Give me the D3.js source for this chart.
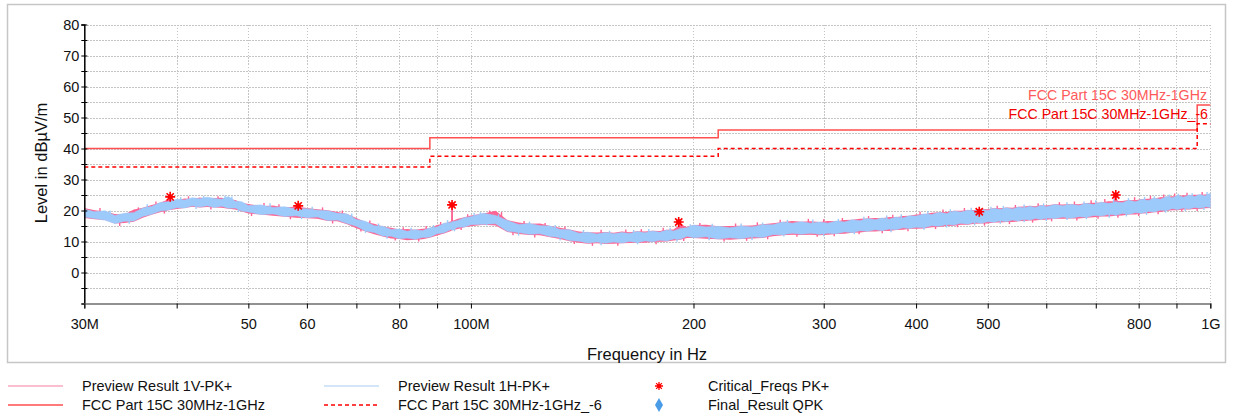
<!DOCTYPE html>
<html>
<head>
<meta charset="utf-8">
<script src="https://cdn.jsdelivr.net/npm/d3@7"></script>
<style>
	body { margin: 0; background: #fff; }
	svg { display: block; font-family: 'Liberation Sans', Arial, sans-serif; }
	.grid line { stroke: #c4c4c4; stroke-dasharray: 1.5,1.5; shape-rendering: crispEdges; }
	.axis text { fill: #111; }
	.axis--y path, .axis--y line { stroke: #000; }
	.axis--x path { stroke: #6e6e6e; stroke-width: 1.6px; }
	.axis--x line { stroke: #000; }
	.label { font-size: 16.5px; fill: #111; }
	.legend text { font-size: 14.5px; fill: #111; }
</style>
</head>
<body>
<div class="graphic"></div>
<script>
// axis ticks
const xTicks = [30, 40, 50, 60, 70, 80, 90, 100, 200, 300, 400, 500, 600, 700, 800, 900, 1000]
const xTickLabels = ['30M', '', '50', '60', '', '80', '', '100M', '200', '300', '400', '500', '', '', '800', '', '1G']
const yTicks = [-5, 0, 5, 10, 15, 20, 25, 30, 35, 40, 45, 50, 55, 60, 65, 70, 75, 80]
const yTickLabels = ['', '0', '', '10', '', '20', '', '30', '', '40', '', '50', '', '60', '', '70', '', '80']

// FCC limit, MHz breakpoints and dBuV/m
const limitFreqs = [30, 88, 216, 960, 1000]
const limitLevels = [40, 43.5, 46, 54, 54]
const limitLevels6 = [34, 37.5, 40, 48, 48]

// preview scans (MHz), read as lower / upper edge of each noise band
const freqs = [30, 31, 32, 33, 34, 35, 36, 37, 38, 39, 40, 41, 42, 43, 44, 45, 46, 47, 48, 49,
	50, 52, 54, 56, 58, 60, 62, 64, 66, 68, 70, 72, 74, 76, 78, 80, 82, 84, 86, 88, 90, 92, 94, 94.1, 94.3, 94.5, 96, 98,
	100, 104, 108, 112, 116, 120, 124, 128, 132, 136, 140, 144, 148, 152, 156, 160, 164, 168, 172, 176, 180, 184, 188, 192, 196,
	200, 208, 216, 224, 232, 240, 248, 256, 264, 272, 280, 288, 296, 304, 312, 320, 328, 336, 344, 352, 360, 368, 376, 384, 392,
	400, 410, 420, 430, 440, 450, 460, 470, 480, 490, 500, 510, 520, 530, 540, 550, 560, 570, 580, 590,
	600, 616, 632, 648, 664, 680, 696, 712, 728, 740, 744, 750, 760, 776, 792, 808, 824, 840, 856, 872, 888, 904, 920, 936, 952, 968, 984, 1000]

const hLo = [17.9, 17.4, 16.9, 15.8, 16.5, 16.6, 18.1, 18.8, 19.8, 20.2, 20.9, 20.8, 21.5, 21.1, 21.5, 21.0, 21.4, 20.7, 20.8, 19.8,
	19.5, 18.7, 18.9, 18.1, 18.3, 17.7, 17.9, 16.8, 16.9, 15.8, 14.9, 13.4, 12.9, 11.8, 11.7, 10.9, 11.1, 10.7, 11.3, 11.4, 12.5, 12.8, 13.9, 13.8, 13.6, 13.7, 14.6, 14.7,
	15.4, 15.6, 15.7, 13.3, 12.9, 12.3, 12.5, 11.6, 11.3, 10.3, 10.1, 9.5, 9.8, 9.4, 9.8, 9.5, 10.0, 9.7, 10.2, 9.9, 10.4, 10.2, 10.8, 10.7, 11.7,
	11.2, 11.5, 10.8, 11.2, 10.9, 11.5, 11.3, 12.2, 12.2, 12.7, 12.3, 12.7, 12.3, 12.7, 12.5, 13.1, 12.9, 13.5, 13.3, 13.8, 13.5, 14.0, 13.8, 14.4, 14.2,
	14.6, 14.4, 15.1, 14.9, 15.5, 15.3, 15.9, 15.6, 16.2, 15.9, 16.4, 16.2, 16.7, 16.4, 16.9, 16.6, 17.2, 16.9, 17.4, 17.1,
	17.6, 17.4, 17.9, 17.5, 18.0, 17.8, 18.4, 18.2, 18.7, 18.6, 18.4, 18.6, 19.0, 18.8, 19.3, 19.1, 19.7, 19.5, 20.1, 20.0, 20.6, 20.3, 20.8, 20.5, 21.0, 20.7, 21.2, 21.0]
const hHi = [20.4, 19.6, 19.9, 18.4, 19.1, 19.3, 20.8, 21.3, 22.6, 22.8, 23.6, 23.4, 24.1, 23.8, 24.3, 23.9, 23.6, 24.5, 23.0, 22.8,
	21.6, 21.8, 21.0, 21.2, 20.5, 20.6, 20.1, 19.9, 19.1, 18.9, 17.1, 16.5, 15.1, 14.9, 13.9, 14.0, 13.3, 13.8, 13.5, 14.4, 14.7, 15.9, 16.1, 16.2, 16.5, 16.4, 16.8, 17.7,
	18.0, 19.1, 18.4, 16.8, 15.5, 15.8, 15.1, 15.0, 13.9, 13.8, 12.7, 13.0, 12.4, 12.9, 12.5, 12.9, 12.6, 13.2, 12.8, 13.4, 13.0, 13.7, 13.4, 14.2, 14.4,
	15.3, 14.7, 14.9, 14.4, 15.0, 14.7, 15.4, 15.4, 16.3, 15.9, 16.4, 15.9, 16.3, 15.9, 16.6, 16.3, 17.0, 16.7, 17.4, 17.0, 17.6, 17.2, 17.9, 17.6, 18.3,
	18.2, 18.9, 18.7, 19.4, 19.0, 19.8, 19.5, 20.1, 19.8, 20.4, 20.0, 20.7, 20.3, 20.9, 20.5, 21.1, 20.8, 21.4, 21.0, 21.6,
	21.2, 21.9, 21.5, 22.0, 21.6, 22.3, 21.9, 22.7, 22.3, 22.5, 22.8, 22.7, 22.5, 23.3, 22.8, 23.6, 23.2, 24.0, 23.6, 24.5, 24.1, 24.8, 24.3, 25.0, 24.5, 25.2, 24.7, 25.6]
const vLo = [17.6, 17.2, 16.9, 15.8, 16.0, 16.4, 17.7, 18.6, 19.4, 20.1, 20.5, 20.8, 21.2, 21.0, 21.1, 21.0, 20.9, 20.6, 20.3, 19.7,
	19.0, 18.7, 18.3, 18.0, 17.7, 17.5, 17.3, 16.6, 16.5, 15.6, 14.3, 13.2, 12.3, 11.6, 11.0, 10.8, 10.4, 10.6, 10.7, 11.2, 11.9, 12.6, 13.4, 13.5, 13.6, 13.6, 14.0, 14.6,
	14.9, 15.4, 15.2, 13.1, 12.4, 12.1, 12.0, 11.4, 10.8, 10.1, 9.6, 9.3, 9.4, 9.2, 9.3, 9.4, 9.5, 9.6, 9.6, 9.8, 9.9, 10.0, 10.3, 10.6, 11.1,
	11.1, 10.9, 10.7, 10.6, 10.8, 11.0, 11.1, 11.7, 12.0, 12.2, 12.1, 12.2, 12.0, 12.2, 12.4, 12.5, 12.8, 12.9, 13.2, 13.2, 13.4, 13.4, 13.7, 13.8, 14.1,
	14.1, 14.2, 14.6, 14.7, 15.0, 15.1, 15.4, 15.4, 15.7, 15.8, 15.8, 16.1, 16.1, 16.3, 16.3, 16.5, 16.6, 16.8, 16.8, 17.0,
	17.0, 17.3, 17.3, 17.4, 17.4, 17.7, 17.8, 18.1, 18.1, 18.2, 18.3, 18.3, 18.4, 18.7, 18.7, 19.0, 19.1, 19.4, 19.5, 19.8, 20.1, 20.1, 20.3, 20.3, 20.5, 20.5, 20.7, 20.8]
const vHi = [20.8, 20.1, 19.7, 18.9, 18.7, 20.3, 20.9, 21.8, 22.5, 23.6, 23.3, 23.9, 23.7, 24.2, 23.8, 24.0, 24.1, 23.6, 23.4, 22.5,
	22.1, 21.4, 21.6, 21.0, 21.3, 20.8, 20.4, 20.1, 19.5, 18.9, 17.6, 16.3, 15.7, 14.8, 14.4, 13.9, 14.0, 13.8, 14.1, 14.3, 15.3, 15.8, 16.5, 16.6, 21.6, 16.7, 17.3, 17.8,
	18.4, 19.0, 19.9, 16.9, 16.1, 15.7, 15.8, 15.0, 14.4, 13.9, 13.2, 13.0, 12.9, 13.1, 12.8, 13.2, 13.0, 13.3, 13.2, 13.5, 13.4, 13.8, 13.9, 15.6, 14.7,
	15.3, 15.4, 14.9, 15.0, 15.1, 15.2, 15.6, 15.9, 16.3, 16.6, 16.4, 16.5, 16.3, 16.6, 16.5, 16.9, 17.0, 17.3, 17.4, 17.6, 17.5, 17.9, 17.8, 18.2, 18.3,
	18.7, 18.8, 19.3, 19.4, 19.5, 19.9, 19.9, 20.1, 20.2, 20.6, 20.4, 20.8, 20.7, 21.0, 20.9, 21.2, 21.3, 21.5, 21.4, 21.7,
	21.6, 22.0, 21.9, 22.1, 22.0, 22.4, 22.5, 22.6, 23.0, 23.0, 24.6, 23.1, 23.1, 23.4, 23.3, 23.7, 23.8, 23.9, 24.3, 24.4, 24.6, 24.7, 24.9, 24.9, 25.1, 25.1, 25.2, 25.3]

// single-sample peaks that stick out of the bands
const vUpFreqs = [31.5, 35.5, 37.5, 41.5, 45.5, 52.5, 55, 63, 67, 73, 81, 87, 91, 99, 106, 110, 118, 126, 134, 150, 162, 170, 182, 204,
	228, 244, 262, 286, 300, 318, 345, 372, 405, 435, 465, 515, 545, 585, 625, 655, 690, 720, 790, 830, 865, 895, 930, 975]
const vUpLevels = [20.8, 21.0, 22.9, 24.6, 24.6, 22.4, 22.0, 21.0, 20.0, 16.8, 14.6, 15.0, 16.3, 18.8, 20.0, 19.5, 16.6, 16.0, 14.8, 13.8, 13.9, 14.0, 14.4, 16.0,
	15.8, 16.2, 17.0, 17.3, 17.2, 17.6, 18.2, 18.6, 19.6, 20.3, 20.8, 21.5, 21.8, 22.3, 22.7, 22.9, 23.3, 23.7, 24.3, 24.8, 25.2, 25.5, 25.7, 26.0]
const vDownFreqs = [33.5, 38.5, 44.5, 50.5, 57, 65, 71, 79, 85, 97, 114, 122, 138, 146, 158, 178, 194, 220, 236, 252, 276, 294, 310, 335, 360,
	390, 425, 455, 495, 535, 575, 610, 660, 705, 750, 800, 850, 915, 960]
const vDownLevels = [15.0, 19.0, 20.3, 18.2, 17.2, 15.8, 13.2, 10.3, 10.0, 13.7, 12.0, 11.3, 9.2, 8.6, 8.6, 9.1, 10.2, 10.0, 10.2, 10.7, 11.5, 11.5, 11.7, 12.3, 12.7,
	13.3, 14.0, 14.6, 15.1, 15.6, 16.1, 16.5, 16.8, 17.3, 17.7, 18.2, 18.8, 19.6, 19.8]
// the two tall pink peaks under the critical markers
const vStemFreqs = [94.3, 744]
const vStemLevels = [21.6, 24.6]
const hUpFreqs = [32.5, 36.5, 40.5, 43.5, 46.5, 47.5, 53.5, 61, 69, 75, 83, 89, 93, 101, 103, 109, 120, 130, 142, 154, 166, 174, 186, 198, 212, 232,
	248, 268, 290, 314, 340, 365, 382, 415, 445, 475, 505, 525, 560, 595, 640, 675, 700, 740, 775, 815, 840, 880, 905, 945, 990]
const hUpLevels = [20.0, 22.0, 24.3, 24.7, 24.8, 24.5, 22.3, 21.2, 19.0, 15.8, 14.4, 15.3, 16.9, 19.3, 19.5, 18.8, 16.4, 15.3, 13.7, 13.5, 13.7, 14.0, 14.4, 15.6, 15.7, 15.8,
	16.1, 17.0, 17.1, 17.3, 18.0, 18.4, 18.8, 19.8, 20.4, 20.9, 21.2, 21.5, 21.9, 22.3, 22.7, 22.9, 23.3, 23.6, 24.0, 24.4, 24.6, 25.2, 25.4, 25.6, 26.0]
const hDownFreqs = [34.5, 42.5, 48.5, 59, 72, 77, 95, 105, 116, 132, 150, 168, 190, 210, 240, 265, 300, 330, 370, 410, 440, 480, 520, 560,
	600, 640, 680, 730, 770, 820, 870, 925, 980]
const hDownLevels = [15.7, 20.5, 19.5, 17.2, 12.8, 10.9, 13.3, 15.2, 11.9, 10.3, 8.8, 9.1, 9.9, 10.4, 10.5, 11.6, 11.7, 12.3, 13.0, 13.8, 14.5, 15.2, 15.7, 16.2,
	16.6, 16.9, 17.2, 17.7, 18.1, 18.6, 19.3, 19.8, 20.2]

// critical frequencies PK+
const critFreqs = [39.2, 58.4, 94.3, 191, 487, 745]
const critLevels = [24.4, 21.5, 21.8, 16.3, 19.6, 25.0]

const legendNames = ['Preview Result 1V-PK+', 'Preview Result 1H-PK+', 'Critical_Freqs PK+',
	'FCC Part 15C 30MHz-1GHz', 'FCC Part 15C 30MHz-1GHz_-6', 'Final_Result QPK']

const col = { pink: '#ff6493', blue: '#9ccafb', limit: '#ff4f4f', limit6: '#ff0000' }
const plot = { left: 84.3, right: 1210.3, top: 24.5, bottom: 303.5 }

const svg = d3.select('.graphic').append('svg')
	.attr('width', 1233)
	.attr('height', 417)

svg.append('rect')
	.attr('x', 7.5).attr('y', 4.5)
	.attr('width', 1218).attr('height', 358)
	.attr('fill', 'none')
	.attr('stroke', '#c6c6c6')
	.attr('stroke-width', 1.5)

const scale = {
	x: d3.scaleLog().domain([30, 1000]).range([plot.left, plot.right]),
	y: d3.scaleLinear().domain([-10, 80]).range([plot.bottom, plot.top]),
}

// grid
const grid = svg.append('g').attr('class', 'grid')
grid.selectAll('.gx')
	.data(xTicks.slice(1))
	.enter().append('line')
		.attr('x1', d => Math.round(scale.x(d)) + 0.5)
		.attr('x2', d => Math.round(scale.x(d)) + 0.5)
		.attr('y1', plot.top)
		.attr('y2', plot.bottom)
grid.selectAll('.gy')
	.data(yTicks)
	.enter().append('line')
		.attr('x1', plot.left)
		.attr('x2', plot.right)
		.attr('y1', d => Math.round(scale.y(d)) + 0.5)
		.attr('y2', d => Math.round(scale.y(d)) + 0.5)

// traces
const band = (lo, hi) => d3.area()
	.x((d, i) => scale.x(freqs[i]))
	.y0((d, i) => scale.y(lo[i]))
	.y1((d, i) => scale.y(hi[i]))

// short vertical hairs, from the peak back into the band
function spikes(g, fs, levels, dir, color, depth = 3, w = 1.4) {
	g.append('g')
		.selectAll('line')
		.data(fs)
		.enter().append('line')
			.attr('x1', d => scale.x(d))
			.attr('x2', d => scale.x(d))
			.attr('y1', (d, i) => scale.y(levels[i]))
			.attr('y2', (d, i) => scale.y(levels[i] - dir * depth))
			.attr('stroke', color)
			.attr('stroke-width', w)
}

const traces = svg.append('g')

spikes(traces, vUpFreqs, vUpLevels, 1, col.pink)
spikes(traces, vDownFreqs, vDownLevels, -1, col.pink)
spikes(traces, vStemFreqs, vStemLevels, 1, col.pink, 6, 1.8)

traces.append('path')
	.datum(freqs)
	.attr('d', band(vLo, vHi))
	.attr('fill', col.pink)

traces.append('path')
	.datum(freqs)
	.attr('d', band(hLo, hHi))
	.attr('fill', col.blue)
	.attr('stroke', col.blue)
	.attr('stroke-width', 0.6)

spikes(traces, hUpFreqs, hUpLevels, 1, col.blue)
spikes(traces, hDownFreqs, hDownLevels, -1, col.blue)

// limits
const limitLine = levels => d3.line()
	.curve(d3.curveStepAfter)
	.x((d, i) => scale.x(limitFreqs[i]))
	.y((d, i) => scale.y(levels[i]))

svg.append('path')
	.datum(limitFreqs)
	.attr('d', limitLine(limitLevels))
	.attr('fill', 'none')
	.attr('stroke', col.limit)
	.attr('stroke-width', 1.5)

svg.append('path')
	.datum(limitFreqs)
	.attr('d', limitLine(limitLevels6))
	.attr('fill', 'none')
	.attr('stroke', col.limit6)
	.attr('stroke-width', 1.5)
	.attr('stroke-dasharray', '4,3')

svg.append('text')
	.attr('x', 1207).attr('y', 100)
	.attr('text-anchor', 'end')
	.attr('font-size', 14.2)
	.attr('fill', '#ff5a5a')
	.text(legendNames[3])

svg.append('text')
	.attr('x', 1208).attr('y', 119)
	.attr('text-anchor', 'end')
	.attr('font-size', 14.2)
	.attr('fill', '#f00000')
	.text(legendNames[4])

// critical freqs
const star = 'M-5,0H5M0,-5V5M-3.6,-3.6L3.6,3.6M-3.6,3.6L3.6,-3.6'
function drawStar(sel) {
	sel.append('path').attr('d', star).attr('stroke', '#ff0000').attr('stroke-width', 1.6)
	sel.append('circle').attr('r', 2.6).attr('fill', '#ff0000')
}

svg.append('g')
	.selectAll('g')
	.data(critFreqs)
	.enter().append('g')
		.attr('transform', (d, i) => `translate(${scale.x(d)},${scale.y(critLevels[i])})`)
		.call(drawStar)

// axes
svg.append('g')
	.attr('class', 'axis axis--y')
	.attr('transform', `translate(${plot.left},0)`)
	.call(d3.axisLeft(scale.y)
		.tickValues(yTicks)
		.tickFormat((d, i) => yTickLabels[i])
		.tickSizeOuter(0)
		.tickSize(3))
	.call(g => g.select('.domain').attr('stroke-width', 1.5))
	.call(g => g.selectAll('.tick line').attr('x2', -3).attr('x1', 3))
	.call(g => g.selectAll('.tick text').attr('x', -5))
	.call(g => g.selectAll('text').attr('font-size', 14.5).attr('font-family', null))

svg.append('g')
	.attr('class', 'axis axis--x')
	.attr('transform', `translate(0,${plot.bottom})`)
	.call(d3.axisBottom(scale.x)
		.tickValues(xTicks)
		.tickFormat((d, i) => xTickLabels[i])
		.tickSizeOuter(0)
		.tickSize(5)
		.tickPadding(10))
	.call(g => g.selectAll('text').attr('font-size', 14.5).attr('font-family', null))

svg.append('text')
	.attr('class', 'label')
	.attr('x', 647).attr('y', 360)
	.attr('text-anchor', 'middle')
	.text('Frequency in Hz')

svg.append('text')
	.attr('class', 'label')
	.attr('text-anchor', 'middle')
	.attr('transform', `translate(47,163) rotate(-90)`)
	.text('Level in dBµV/m')

// legend
const legend = svg.append('g').attr('class', 'legend')
const rows = [386, 405]
const legendItems = [
	{ name: legendNames[0], x: 8, y: rows[0], type: 'line', color: '#f9a9c1' },
	{ name: legendNames[3], x: 8, y: rows[1], type: 'line', color: col.limit },
	{ name: legendNames[1], x: 324, y: rows[0], type: 'line', color: '#c5def6' },
	{ name: legendNames[4], x: 324, y: rows[1], type: 'dash', color: col.limit6 },
	{ name: legendNames[2], x: 634, y: rows[0], type: 'star' },
	{ name: legendNames[5], x: 634, y: rows[1], type: 'diamond' },
]

const item = legend.selectAll('g')
	.data(legendItems)
	.enter().append('g')
		.attr('transform', d => `translate(${d.x},${d.y})`)

item.filter(d => d.type === 'line' || d.type === 'dash')
	.append('line')
		.attr('x1', 0).attr('x2', 55)
		.attr('stroke', d => d.color)
		.attr('stroke-width', 1.6)
		.attr('stroke-dasharray', d => d.type === 'dash' ? '4,3' : null)

item.filter(d => d.type === 'star')
	.append('g')
		.attr('transform', 'translate(25,0) scale(0.8)')
		.call(drawStar)

item.filter(d => d.type === 'diamond')
	.append('path')
		.attr('transform', 'translate(25,0)')
		.attr('d', d3.symbol(d3.symbolDiamond).size(55))
		.attr('fill', '#4b9ce6')

item.append('text')
	.attr('x', 74)
	.attr('y', 5)
	.text(d => d.name)
</script>
</body>
</html>
